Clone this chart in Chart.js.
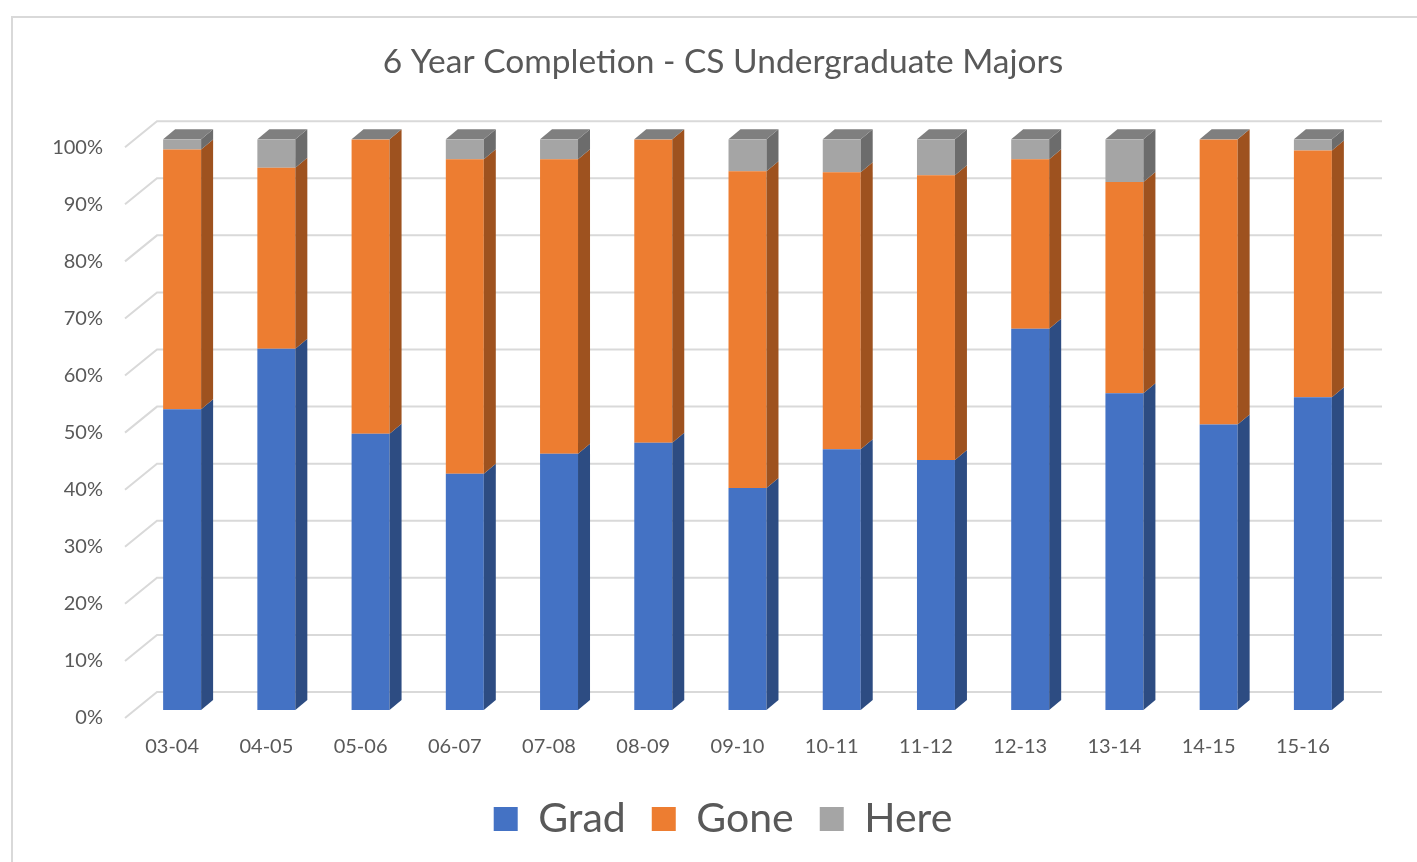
<!DOCTYPE html>
<html>
<head>
<meta charset="utf-8">
<script src="https://cdn.jsdelivr.net/npm/chart.js@4"></script>
<style>
  html, body { margin: 0; padding: 0; background: #fff; }
  #wrap { position: relative; width: 1417px; height: 862px; overflow: hidden; }
  #frame { position: absolute; left: 11px; top: 16px; width: 1500px; height: 900px;
           border-left: 2px solid #d9d9d9; border-top: 2px solid #d9d9d9; pointer-events: none; }
  canvas { position: absolute; left: 0; top: 0; }
</style>
</head>
<body>
<div id="wrap">
  <canvas id="chart" width="1417" height="862"></canvas>
  <div id="frame"></div>
</div>
<script>
// Chart data (percent of cohort)
const years = ['03-04', '04-05', '05-06', '06-07', '07-08', '08-09', '09-10', '10-11', '11-12', '12-13', '13-14', '14-15', '15-16'];
const grad = [52.7, 63.3, 48.4, 41.4, 44.9, 46.8, 38.9, 45.7, 43.8, 66.8, 55.5, 50.0, 54.8];
const gone = [45.5, 31.7, 51.6, 55.1, 51.6, 53.2, 55.5, 48.5, 49.9, 29.7, 37.0, 50.0, 43.2];
const here = [1.8, 5.0, 0, 3.5, 3.5, 0, 5.6, 5.8, 6.3, 3.5, 7.5, 0, 2.0];
const yTicks = [0, 10, 20, 30, 40, 50, 60, 70, 80, 90, 100];

const frontColors = ['#4472c4', '#ed7d31', '#a5a5a5'];
const sideColors = ['#2d4c82', '#9e521f', '#6c6c6c'];
const topColor = '#7f7f7f';
const textColor = '#595959';
const fontFamily = 'Lato, "Open Sans", sans-serif';

// 3D offsets
const depthX = 12, depthY = -10;
const floorX = -10, floorY = 8, wallX = 22, wallY = -18;

const bar3d = {
  id: 'bar3d',
  beforeDatasetsDraw(chart) {
    const { ctx, chartArea, scales } = chart;
    const y = scales.y;
    ctx.save();
    ctx.strokeStyle = '#d9d9d9';
    ctx.lineWidth = 2;
    yTicks.forEach(v => {
      const py = y.getPixelForValue(v);
      ctx.beginPath();
      ctx.moveTo(chartArea.left + floorX, py + floorY);
      ctx.lineTo(chartArea.left + wallX, py + wallY);
      ctx.lineTo(chartArea.right + wallX, py + wallY);
      ctx.stroke();
    });
    ctx.restore();
  },
  afterDatasetsDraw(chart) {
    const ctx = chart.ctx;
    ctx.save();
    chart.data.datasets.forEach((ds, di) => {
      const meta = chart.getDatasetMeta(di);
      ctx.fillStyle = sideColors[di];
      meta.data.forEach(bar => {
        const right = bar.x + bar.width / 2;
        const top = Math.min(bar.y, bar.base);
        const bottom = Math.max(bar.y, bar.base);
        if (bottom - top < 0.01) return;
        ctx.beginPath();
        ctx.moveTo(right, bottom);
        ctx.lineTo(right + depthX, bottom + depthY);
        ctx.lineTo(right + depthX, top + depthY);
        ctx.lineTo(right, top);
        ctx.closePath();
        ctx.fill();
      });
    });
    // top faces
    const last = chart.getDatasetMeta(chart.data.datasets.length - 1);
    ctx.fillStyle = topColor;
    last.data.forEach(bar => {
      const left = bar.x - bar.width / 2;
      const right = bar.x + bar.width / 2;
      const top = Math.min(bar.y, bar.base);
      ctx.beginPath();
      ctx.moveTo(left, top);
      ctx.lineTo(left + depthX, top + depthY);
      ctx.lineTo(right + depthX, top + depthY);
      ctx.lineTo(right, top);
      ctx.closePath();
      ctx.fill();
    });
    ctx.restore();
  }
};

new Chart(document.getElementById('chart'), {
  type: 'bar',
  data: {
    labels: years,
    datasets: [
      { label: 'Grad', data: grad, backgroundColor: frontColors[0] },
      { label: 'Gone', data: gone, backgroundColor: frontColors[1] },
      { label: 'Here', data: here, backgroundColor: frontColors[2] }
    ]
  },
  options: {
    responsive: false,
    animation: false,
    layout: { padding: { left: 50, right: 21, top: 0, bottom: 12.5 } },
    datasets: { bar: { barPercentage: 0.403, categoryPercentage: 1, borderWidth: 0 } },
    scales: {
      x: {
        stacked: true,
        afterFit: s => { s.height = 62.5; },
        grid: { display: false, drawTicks: false },
        border: { display: false },
        ticks: { color: textColor, font: { family: fontFamily, size: 20 }, padding: 25, labelOffset: -10, maxRotation: 0 }
      },
      y: {
        stacked: true,
        min: 0,
        max: 100,
        afterFit: s => { s.width = 85; },
        grid: { display: false, drawTicks: false },
        border: { display: false },
        ticks: {
          stepSize: 10,
          color: textColor,
          font: { family: fontFamily, size: 20 },
          padding: 32,
          labelOffset: 8,
          callback: v => v + '%'
        }
      },
      // empty right-hand axis, keeps the title centred like the original
      y2: {
        position: 'right',
        afterFit: s => { s.width = 36; },
        grid: { display: false, drawTicks: false },
        border: { display: false },
        ticks: { display: false }
      }
    },
    plugins: {
      title: {
        display: true,
        text: '6 Year Completion - CS Undergraduate Majors',
        color: textColor,
        font: { family: fontFamily, size: 33.5, weight: 'normal' },
        padding: { top: 42, bottom: 57 }
      },
      legend: {
        position: 'bottom',
        labels: { color: textColor, font: { family: fontFamily, size: 41 }, boxWidth: 24, boxHeight: 24, padding: 26 }
      },
      tooltip: { enabled: false }
    }
  },
  plugins: [bar3d]
});
</script>
</body>
</html>
